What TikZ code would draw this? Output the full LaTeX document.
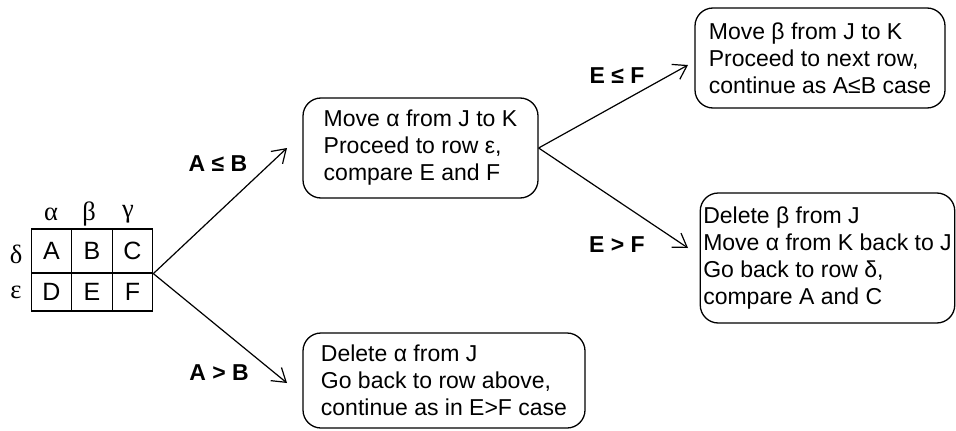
\documentclass[tikz,border=0pt]{standalone}
\usepackage{fontspec}
\setmainfont{Liberation Sans}
\newfontfamily\grkfont{Liberation Serif}
\usetikzlibrary{arrows.meta}

\begin{document}
\begin{tikzpicture}[x=1pt,y=-1pt,
	cell/.style={draw, line width=1.2pt, inner sep=0pt, minimum width=40.5pt, font=\fontsize{25}{26}\selectfont},
	greek/.style={font=\grkfont\fontsize{26.5}{26}\selectfont},
	stepbox/.style={draw, line width=1.3pt, rounded corners=18pt, align=left, inner xsep=3pt, font=\fontsize{23}{27}\selectfont},
	cond/.style={font=\bfseries\fontsize{23}{26}\selectfont},
	arr/.style={line width=1.2pt, -{Straight Barb[length=13pt,width=17pt,line width=1.2pt]}}
]
\useasboundingbox (0,0) rectangle (956,431);

\foreach \l/\x in {A/51.5,B/92,C/132.5}{
	\node[cell, minimum height=44pt] (c\l) at (\x,251) {\l};
}
\foreach \l/\x in {D/51.5,E/92,F/132.5}{
	\node[cell, minimum height=38pt] (c\l) at (\x,292) {\l};
}

\node[greek] (ga) at (51,214) {α};
\node[greek] (gb) at (89,214) {β};
\node[greek] (gc) at (128,214) {γ};
\node[greek] (gd) at (16,254) {δ};
\node[greek] (ge) at (16,292) {ε};

\node[stepbox, minimum width=235pt, minimum height=100pt] (mid) at (420.5,148)
	{Move α from J to K\\Proceed to row ε,\\compare E and F};
\node[stepbox, minimum width=282pt, minimum height=95pt] (low) at (444,380.5)
	{Delete α from J\\Go back to row above,\\continue as in E>F case};
\node[stepbox, minimum width=250pt, minimum height=100pt] (next) at (820,58)
	{Move β from J to K\\Proceed to next row,\\continue as A≤B case};
\node[stepbox, minimum width=251pt, minimum height=130pt] (back) at (827.5,258)
	{Delete β from J\\Move α from K back to J\\Go back to row δ,\\compare A and C};

\coordinate (tAB) at (287,148);
\coordinate (tBA) at (287,383);
\coordinate (tEF) at (688,65);
\coordinate (tFE) at (688,248);

\draw[arr] (cC.south east) -- (tAB);
\draw[arr] (cC.south east) -- (tBA);
\draw[arr] (mid.east) -- (tEF);
\draw[arr] (mid.east) -- (tFE);

\node[cond] (lAB) at (218,164) {A ≤ B};
\node[cond] (lBA) at (219,373) {A > B};
\node[cond] (lEF) at (617,76) {E ≤ F};
\node[cond] (lFE) at (617,245) {E > F};
\end{tikzpicture}
\end{document}
